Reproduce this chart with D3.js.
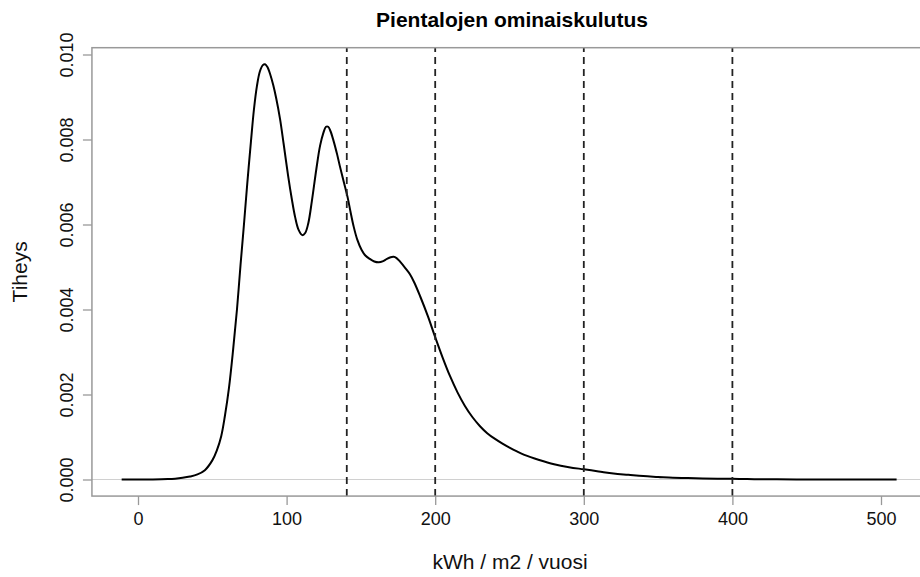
<!DOCTYPE html>
<html>
<head>
<meta charset="utf-8">
<script src="https://cdn.jsdelivr.net/npm/d3@7"></script>
<style>
  body { margin: 0; background: #fff; }
  text { font-family: "Liberation Sans", Arial, sans-serif; }
</style>
</head>
<body>
<svg id="chart" width="920" height="577"></svg>
<script>
// density estimate (kWh/m2/vuosi, tiheys)
var kwh = [-11, 0, 10, 20, 25, 30, 35, 40, 45, 50, 53, 56, 58.5, 61.2, 64, 66.6, 69, 71.3, 73.5, 76, 78, 80, 82, 84, 85.5, 87, 89, 91, 93, 95.6, 98, 101, 103.5, 105.7, 108, 110.6, 112.5, 114.6, 117, 120, 122.5, 124.7, 126.5, 128, 129.5, 131.5, 134, 136, 138.5, 141, 143, 145, 147.5, 150.5, 153, 156, 159, 162, 165, 167.5, 170, 172, 174, 176.5, 180, 183, 186, 190, 195, 200, 205, 210, 215, 220, 225, 230, 235, 240, 245, 250, 255, 260, 270, 280, 290, 300, 310, 320, 330, 340, 350, 360, 370, 380, 390, 400, 410, 420, 430, 450, 470, 490, 510.5];
var tiheys = [0, 0, 0.000002, 0.00001, 0.00002, 0.00004, 0.00007, 0.00012, 0.00022, 0.00045, 0.00068, 0.00102, 0.0015, 0.00215, 0.00305, 0.004, 0.00505, 0.006, 0.00695, 0.00795, 0.0087, 0.00925, 0.0096, 0.00975, 0.00977, 0.00971, 0.00953, 0.00928, 0.00897, 0.00848, 0.0079, 0.00715, 0.0066, 0.00618, 0.00588, 0.00575, 0.0058, 0.00603, 0.00655, 0.0073, 0.00785, 0.00815, 0.0083, 0.0083, 0.0082, 0.00798, 0.00765, 0.00735, 0.007, 0.00665, 0.0063, 0.00597, 0.00565, 0.0054, 0.00527, 0.00519, 0.00513, 0.00511, 0.00514, 0.00519, 0.00523, 0.00524, 0.00521, 0.00512, 0.00497, 0.00483, 0.00463, 0.0043, 0.00385, 0.00335, 0.00287, 0.00243, 0.00205, 0.00173, 0.00147, 0.00126, 0.00109, 0.00096, 0.00085, 0.00075, 0.00066, 0.00058, 0.00046, 0.00036, 0.00029, 0.00024, 0.00019, 0.00014, 0.00011, 0.00008, 0.00006, 0.00004, 0.000035, 0.000025, 0.00002, 0.000015, 0.00001, 0.000007, 0.000004, 0.000002, 0.000001, 0.0000005, 0];

var rajat = [140.5, 200, 300, 400];   // vertical dashed lines
var xTicks = [0, 100, 200, 300, 400, 500];
var yTicks = [0, 0.002, 0.004, 0.006, 0.008, 0.010];

var svg = d3.select("#chart");

// scales
var xScale = d3.scaleLinear().domain([0, 500]).range([138, 881]);
var yScale = d3.scaleLinear().domain([0, 0.01]).range([479.5, 54.5]);

var boxL = xScale(-31), boxR = xScale(532);
var boxT = yScale(0.01016), boxB = yScale(-0.00039);

svg.append("clipPath").attr("id", "plotclip")
  .append("rect")
  .attr("x", boxL).attr("y", boxT)
  .attr("width", boxR - boxL).attr("height", boxB - boxT);

var plot = svg.append("g").attr("clip-path", "url(#plotclip)");

// zero line
plot.append("line")
  .attr("x1", boxL).attr("x2", boxR)
  .attr("y1", yScale(0)).attr("y2", yScale(0))
  .attr("stroke", "#d0d0d0").attr("stroke-width", 1.2);

// density curve
var pts = kwh.map(function(d, i) { return [d, tiheys[i]]; });
plot.append("path")
  .datum(pts)
  .attr("fill", "none")
  .attr("stroke", "#000")
  .attr("stroke-width", 2)
  .attr("stroke-linejoin", "round")
  .attr("d", d3.line()
    .curve(d3.curveCatmullRom.alpha(0.5))
    .x(function(d) { return xScale(d[0]); })
    .y(function(d) { return yScale(Math.max(0, d[1])); }));

// dashed limits
plot.selectAll(".raja").data(rajat).enter()
  .append("line")
  .attr("class", "raja")
  .attr("x1", function(d) { return xScale(d); })
  .attr("x2", function(d) { return xScale(d); })
  .attr("y1", boxB).attr("y2", boxT)
  .attr("stroke", "#222")
  .attr("stroke-width", 1.8)
  .attr("stroke-dasharray", "7,5");

// box
svg.append("rect")
  .attr("x", boxL).attr("y", boxT)
  .attr("width", boxR - boxL).attr("height", boxB - boxT)
  .attr("fill", "none").attr("stroke", "#999").attr("stroke-width", 1.5);

// x axis
var xAxis = d3.axisBottom(xScale).tickValues(xTicks).tickSize(9).tickSizeOuter(0);
var gx = svg.append("g").attr("transform", "translate(0," + boxB + ")").call(xAxis);
gx.select(".domain").remove();
gx.selectAll("line").attr("stroke", "#999").attr("stroke-width", 1.3);
gx.selectAll("text")
  .attr("fill", "#111").style("font-size", "18px")
  .attr("y", 28.5).attr("dy", null);

// y axis
var yAxis = d3.axisLeft(yScale).tickValues(yTicks).tickSize(9).tickFormat(d3.format(".3f"));
var gy = svg.append("g").attr("transform", "translate(" + boxL + ",0)").call(yAxis);
gy.select(".domain").remove();
gy.selectAll("line").attr("stroke", "#999").attr("stroke-width", 1.3);
gy.selectAll("text")
  .attr("fill", "#111").style("font-size", "18px")
  .attr("x", null).attr("dy", null)
  .attr("text-anchor", "middle")
  .attr("transform", "translate(-18.5,0) rotate(-90)")
  .attr("y", 0);

// titles
svg.append("text")
  .attr("x", 512).attr("y", 27)
  .attr("text-anchor", "middle")
  .style("font-size", "21px").style("font-weight", "bold")
  .text("Pientalojen ominaiskulutus");

svg.append("text")
  .attr("x", 510).attr("y", 569)
  .attr("text-anchor", "middle")
  .style("font-size", "21px").attr("fill", "#111")
  .text("kWh / m2 / vuosi");

svg.append("text")
  .attr("transform", "translate(27," + ((boxT + boxB) / 2) + ") rotate(-90)")
  .attr("text-anchor", "middle")
  .style("font-size", "21px").attr("fill", "#111")
  .text("Tiheys");
</script>
</body>
</html>
